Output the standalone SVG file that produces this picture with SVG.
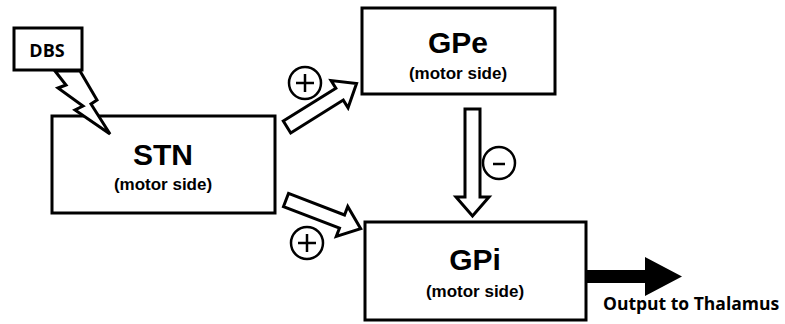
<svg xmlns="http://www.w3.org/2000/svg" width="785" height="324" viewBox="0 0 785 324">
<style>
.box{fill:#fff;stroke:#000;stroke-width:3}
.title{font-family:"Liberation Sans",Arial,sans-serif;font-weight:bold;font-size:30px;text-anchor:middle;fill:#000}
.sub{font-family:"Liberation Sans",Arial,sans-serif;font-weight:bold;font-size:17px;text-anchor:middle;fill:#000}
.lbl{font-family:"Open Sans","Liberation Sans",sans-serif;font-weight:bold;fill:#000}
.hollow{fill:#fff;stroke:#000;stroke-width:3;stroke-linejoin:miter}
.sign{fill:#fff;stroke:#000;stroke-width:2.5}
</style>
<rect width="785" height="324" fill="#fff"/>
<g id="connectors">
  <polygon class="hollow" transform="translate(287,127) rotate(-32)" points="0,-7 62,-7 62,-16 82,0 62,16 62,7 0,7"/>
  <polygon class="hollow" transform="translate(286,200) rotate(21)" points="0,-7 60,-7 60,-16 80,0 60,16 60,7 0,7"/>
  <polygon class="hollow" points="465,109 480,109 480,197 489,197 472.5,216 456,197 465,197"/>
  <polygon fill="#000" points="586,270 645,270 645,257 682,276.5 645,296 645,283 586,283"/>
  <g id="plus1"><circle class="sign" cx="305" cy="83" r="16"/><path d="M296,83H314M305,74V92" stroke="#000" stroke-width="2.5"/></g>
  <g id="plus2"><circle class="sign" cx="307" cy="243" r="16"/><path d="M298,243H316M307,234V252" stroke="#000" stroke-width="2.5"/></g>
  <g id="minus"><circle class="sign" cx="499" cy="163" r="16"/><path d="M493,164H505" stroke="#000" stroke-width="2.5"/></g>
</g>
<g id="STN">
  <rect class="box" x="52" y="116" width="223" height="97"/>
  <text class="title" x="163" y="165">STN</text>
  <text class="sub" x="163" y="190">(motor side)</text>
</g>
<g id="DBS">
  <polygon class="hollow" points="55,71 66,85 58,88 83,106 75,110 110,134 91,104 97,100 80,71"/>
  <rect class="box" x="14" y="28" width="68" height="42"/>
  <text class="lbl" x="47" y="57" font-size="18" text-anchor="middle">DBS</text>
</g>
<g id="GPe">
  <rect class="box" x="362" y="8" width="193" height="86"/>
  <text class="title" x="458" y="53">GPe</text>
  <text class="sub" x="458" y="79">(motor side)</text>
</g>
<g id="GPi">
  <rect class="box" x="365" y="222" width="221" height="98"/>
  <text class="title" x="475" y="270">GPi</text>
  <text class="sub" x="475" y="297">(motor side)</text>
</g>
<text class="lbl" x="603" y="310" font-size="17.5">Output to Thalamus</text>
</svg>
